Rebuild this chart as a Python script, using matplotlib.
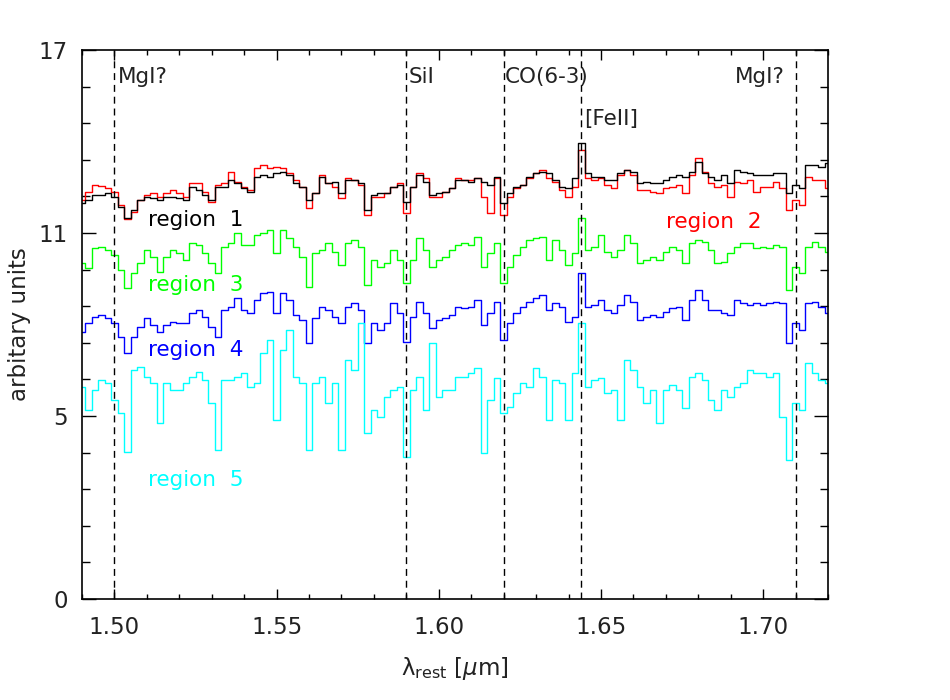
import numpy as np
import matplotlib
matplotlib.use("Agg")
import matplotlib.pyplot as plt
from matplotlib.ticker import MultipleLocator, AutoMinorLocator, FixedLocator

# ---------------- data ----------------
wavelength = np.round(np.arange(1.490, 1.7201, 0.002), 3)

region1 = [12.26,12.35,12.51,12.51,12.57,12.45,12.14,11.80,12.04,12.35,12.45,12.41,12.35,12.45,12.45,12.41,12.35,12.76,12.66,12.51,12.35,12.76,12.76,12.97,12.88,12.72,12.60,13.07,13.13,13.07,
           13.19,13.22,13.13,12.88,12.76,12.35,12.57,13.07,12.88,12.91,12.57,12.97,12.97,12.88,12.04,12.51,12.57,12.57,12.76,12.82,12.29,12.76,13.13,12.91,12.51,12.57,12.60,12.72,12.97,
           12.97,12.91,13.03,12.91,12.82,13.07,12.26,12.57,12.76,12.82,13.07,13.19,13.22,13.19,12.97,12.76,12.72,13.03,14.12,13.19,13.07,13.07,12.97,12.97,13.19,13.28,13.22,12.88,
           12.91,12.88,12.88,12.97,13.07,13.13,13.07,13.22,13.53,13.19,13.07,12.97,13.13,12.88,13.28,13.22,13.19,13.13,13.13,13.13,13.19,13.19,12.57,12.82,12.72,13.44,13.44,13.37,13.50]

region2 = [12.35,12.60,12.82,12.79,12.72,12.60,12.20,11.76,11.98,12.35,12.51,12.57,12.45,12.57,12.66,12.57,12.45,12.88,12.88,12.60,12.29,12.82,12.88,13.22,12.91,12.76,12.66,13.34,13.44,13.34,
           13.37,13.34,13.19,12.97,12.76,12.11,12.57,13.13,12.88,12.76,12.41,13.03,12.97,12.82,11.89,12.45,12.45,12.57,12.76,12.88,11.95,12.76,13.19,13.03,12.45,12.45,12.60,12.72,13.03,
           12.97,12.97,13.03,12.45,11.95,13.03,11.89,12.45,12.72,12.82,13.03,13.19,13.28,13.03,12.91,12.66,12.45,12.76,13.90,13.03,12.97,13.03,12.82,12.72,13.13,13.28,13.13,12.66,
           12.66,12.60,12.57,12.72,12.76,12.82,12.57,13.13,13.65,13.22,12.88,12.76,12.82,12.45,12.91,12.88,12.97,12.60,12.76,12.76,12.91,12.72,12.04,12.35,12.20,13.07,12.97,12.97,12.72]

region3 = [10.40,10.25,10.87,10.90,10.80,10.65,10.19,9.63,10.09,10.40,10.80,10.59,10.12,10.59,10.80,10.71,10.50,11.02,10.96,10.71,10.40,10.09,10.90,11.02,11.33,10.96,10.96,11.27,11.33,11.42,
           10.71,11.42,11.18,10.90,10.59,9.66,10.71,10.80,11.02,10.74,10.34,11.02,11.11,10.90,9.72,10.50,10.28,10.40,10.80,10.50,9.78,10.50,11.18,10.80,10.28,10.50,10.59,10.80,10.96,
           11.02,10.96,11.21,10.28,10.71,11.02,9.78,10.28,10.65,10.90,11.11,11.18,11.21,10.50,11.11,10.80,10.34,10.71,11.80,10.80,10.90,11.27,10.74,10.59,10.80,11.27,11.02,10.40,
           10.50,10.59,10.50,10.74,10.90,10.80,10.40,11.02,11.11,11.05,10.80,10.40,10.43,10.71,10.90,11.02,11.02,10.87,10.90,10.87,10.96,10.90,9.57,10.28,10.09,10.90,11.05,10.90,10.74]

region4 = [8.27,8.54,8.73,8.79,8.70,8.54,8.11,7.62,8.11,8.42,8.70,8.48,8.27,8.48,8.58,8.54,8.54,8.85,8.95,8.73,8.42,8.11,8.95,9.04,9.32,8.95,8.85,9.26,9.47,9.50,
           8.85,9.47,9.26,8.79,8.64,7.93,8.70,9.04,8.95,8.73,8.54,9.04,9.16,8.95,7.93,8.54,8.33,8.54,9.16,8.85,7.96,8.73,9.20,8.85,8.39,8.64,8.70,8.79,9.04,
           9.01,9.04,9.26,8.48,8.85,9.20,8.02,8.54,8.85,9.04,9.20,9.32,9.41,8.95,9.16,9.04,8.58,8.73,10.09,9.04,9.10,9.26,8.95,8.85,9.10,9.41,9.20,8.64,
           8.73,8.79,8.73,8.89,9.01,9.04,8.64,9.26,9.57,9.26,8.95,8.95,8.85,8.79,9.26,9.16,9.10,9.16,9.10,9.16,9.20,9.16,7.93,8.54,8.33,9.16,9.20,9.04,8.85]

region5 = [6.56,5.85,6.47,6.78,6.69,6.16,5.76,4.55,7.09,7.18,6.87,6.69,5.45,6.69,6.47,6.47,6.69,6.87,7.03,6.78,6.07,4.61,6.78,6.78,6.87,7.00,6.56,6.69,7.62,8.02,
           5.54,7.71,8.33,6.87,6.69,4.61,6.69,6.87,6.07,6.69,4.61,7.40,7.09,8.54,5.14,5.85,5.63,6.25,6.47,6.56,4.40,6.47,6.87,5.85,7.93,6.25,6.47,6.47,6.87,
           6.87,7.00,7.15,4.52,6.16,6.84,5.76,5.94,6.38,6.69,6.56,7.15,6.87,5.54,6.78,6.69,5.54,7.00,8.54,6.56,6.78,6.84,6.38,6.47,5.54,7.40,7.09,6.56,
           6.07,6.47,5.45,6.47,6.63,6.47,5.91,6.87,7.00,6.78,6.16,5.85,6.47,6.25,6.56,6.69,7.09,7.00,7.00,6.87,7.00,5.63,4.30,6.07,5.85,7.31,7.00,6.78,6.69]

series_names = ["region  1", "region  2", "region  3", "region  4", "region  5"]
series_colors = ["black", "#ff0000", "#00ff00", "#0000ff", "#00ffff"]

line_positions = [1.500, 1.590, 1.620, 1.644, 1.710]
line_names = ["MgI?", "SiI", "CO(6-3)", "[FeII]", "MgI?"]

ytick_values = [0, 17/3, 34/3, 17]
ytick_labels = ["0", "5", "11", "17"]

# ---------------- figure ----------------
plt.rcParams['font.family'] = ['DejaVu Sans']
fig = plt.figure(figsize=(9.5, 7.0), dpi=100)
ax = fig.add_axes([82/950, 1-599/700, (828-82)/950, (599-50)/700])

series = [region1, region2, region3, region4, region5]
order = [1, 0, 2, 3, 4]
for idx in order:
    ax.plot(wavelength, series[idx], drawstyle='steps-mid', color=series_colors[idx], lw=1.0)

for xpos in line_positions:
    ax.axvline(xpos, color='black', lw=1.0, linestyle=(0, (5, 3.5)))

fs = 15.5
tc = '#222222'
ax.text(1.5011, 16.15, line_names[0], fontsize=fs, va='center', ha='left', color=tc)
ax.text(1.5908, 16.15, line_names[1], fontsize=fs, va='center', ha='left', color=tc)
ax.text(1.6204, 16.15, line_names[2], fontsize=fs, va='center', ha='left', color=tc)
ax.text(1.6448, 14.85, line_names[3], fontsize=fs, va='center', ha='left', color=tc)
ax.text(1.7068, 16.15, line_names[4], fontsize=fs, va='center', ha='right', color=tc)

ax.text(1.5104, 11.73, series_names[0], color=series_colors[0], fontsize=fs, va='center', ha='left')
ax.text(1.6700, 11.67, series_names[1], color=series_colors[1], fontsize=fs, va='center', ha='left')
ax.text(1.5104, 9.72, series_names[2], color=series_colors[2], fontsize=fs, va='center', ha='left')
ax.text(1.5104, 7.71, series_names[3], color=series_colors[3], fontsize=fs, va='center', ha='left')
ax.text(1.5104, 3.68, series_names[4], color=series_colors[4], fontsize=fs, va='center', ha='left')

ax.set_xlim(1.49, 1.72)
ax.set_ylim(0, 17)
ax.xaxis.set_major_locator(MultipleLocator(0.05))
ax.xaxis.set_minor_locator(MultipleLocator(0.01))
ax.yaxis.set_major_locator(FixedLocator(ytick_values))
ax.set_yticklabels(ytick_labels)
ax.yaxis.set_minor_locator(AutoMinorLocator(5))
ax.xaxis.set_major_formatter(matplotlib.ticker.FormatStrFormatter('%.2f'))

ax.tick_params(which='both', direction='in', top=True, right=True, labelsize=16.5,
               colors='black', labelcolor=tc, width=1.0)
ax.tick_params(axis='x', which='major', length=7.5, pad=12)
ax.tick_params(axis='x', which='minor', length=3.8)
ax.tick_params(axis='y', which='major', length=10, pad=10)
ax.tick_params(axis='y', which='minor', length=5.5)
for sp in ax.spines.values():
    sp.set_linewidth(1.2)

ax.set_xlabel('λ$_{\\mathrm{rest}}$ [$\\mu$m]', fontsize=16.5, color=tc, labelpad=12)
ax.set_ylabel('arbitary units', fontsize=16.5, color=tc, labelpad=6)

fig.savefig('out.png', dpi=100)
